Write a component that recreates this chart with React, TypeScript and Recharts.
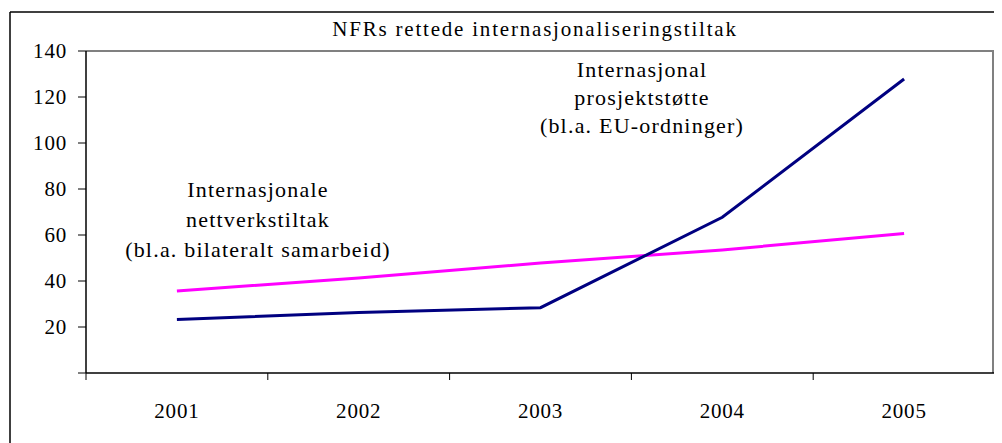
import React from 'react';
import { LineChart, Line, XAxis, YAxis, CartesianGrid, Customized } from 'recharts';

const years = ['2001', '2002', '2003', '2004', '2005'];
const prosjektstotte = [23.3, 26.3, 28.4, 67.7, 127.8];
const nettverkstiltak = [35.7, 41.3, 47.8, 53.5, 60.7];
const yTicks = [0, 20, 40, 60, 80, 100, 120, 140];
const bandEdges = [0.5, 1.5, 2.5, 3.5, 4.5, 5.5];

const title = 'NFRs rettede internasjonaliseringstiltak';
const noteRight = ['Internasjonal', 'prosjektstøtte', '(bl.a. EU-ordninger)'];
const noteLeft = ['Internasjonale', 'nettverkstiltak', '(bl.a. bilateralt samarbeid)'];

const data = years.map((y, i) => ({
  idx: i + 1,
  year: y,
  prosjekt: prosjektstotte[i],
  nettverk: nettverkstiltak[i],
}));

const FONT = 'Liberation Serif';

const Overlay = () => (
  <g>
    <line x1={2} y1={4} x2={1100} y2={4} stroke="#000" strokeWidth={1.5} />
    <line x1={2} y1={4} x2={2} y2={600} stroke="#000" strokeWidth={1.5} />
    <text x={527} y={28} textAnchor="middle" fontFamily={FONT} fontSize={21} letterSpacing={1.8} fill="#000">
      {title}
    </text>
    {noteRight.map((t, i) => (
      <text key={t} x={634} y={69 + i * 28} textAnchor="middle" fontFamily={FONT} fontSize={22} letterSpacing={1.2} fill="#000">
        {t}
      </text>
    ))}
    {noteLeft.map((t, i) => (
      <text key={t} x={250} y={189 + i * 30} textAnchor="middle" fontFamily={FONT} fontSize={22} letterSpacing={1.2} fill="#000">
        {t}
      </text>
    ))}
  </g>
);

const XTick = (props: any) => {
  const { x, y, width, index } = props;
  const label = years[index];
  if (!label) return null;
  const band = width / years.length;
  return (
    <text x={x + band / 2} y={y + 36} textAnchor="middle" fill="#000" fontFamily={FONT} fontSize={21} letterSpacing={0.8}>
      {label}
    </text>
  );
};

const tickStyle = { fill: '#000', fontSize: 21, fontFamily: FONT, letterSpacing: 0.8 };

export default function App() {
  return (
    <div style={{ position: 'relative', width: 994, height: 435, overflow: 'hidden', background: '#fff' }}>
      <div
        style={{
          position: 'absolute',
          left: 78,
          top: 42,
          width: 908,
          height: 323,
          borderTop: '2px solid #808080',
          borderRight: '2px solid #808080',
          boxSizing: 'border-box',
          pointerEvents: 'none',
        }}
      />
      <LineChart
        width={994}
        height={435}
        data={data}
        margin={{ top: 43, right: 7, bottom: 0, left: 0 }}
        style={{ position: 'absolute', left: 0, top: 0 }}
      >
        <CartesianGrid horizontalValues={[140]} verticalValues={[5.5]} stroke="#808080" strokeWidth={1.5} />
        <XAxis
          type="number"
          dataKey="idx"
          domain={[0.5, 5.5]}
          ticks={bandEdges}
          tick={<XTick />}
          tickSize={7}
          height={70}
          axisLine={{ stroke: '#000', strokeWidth: 1.5 }}
          tickLine={{ stroke: '#000' }}
          interval={0}
          allowDataOverflow
        />
        <YAxis
          domain={[0, 140]}
          ticks={yTicks}
          width={78}
          tickSize={8}
          tickMargin={11}
          tickFormatter={(v: number) => (v === 0 ? '' : String(v))}
          axisLine={{ stroke: '#000', strokeWidth: 1.5 }}
          tickLine={{ stroke: '#000' }}
          tick={tickStyle}
          interval={0}
          allowDataOverflow
        />
        <Line type="linear" dataKey="nettverk" stroke="#FF00FF" strokeWidth={3} dot={false} isAnimationActive={false} />
        <Line type="linear" dataKey="prosjekt" stroke="#000080" strokeWidth={3} dot={false} isAnimationActive={false} />
        <Customized component={Overlay} />
      </LineChart>
    </div>
  );
}
